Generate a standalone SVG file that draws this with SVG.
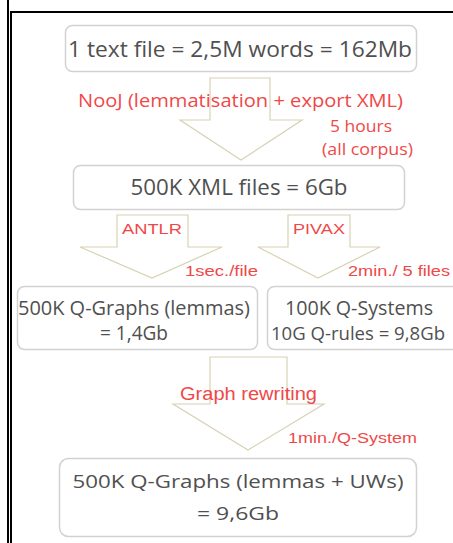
<svg xmlns="http://www.w3.org/2000/svg" width="453" height="543" viewBox="0 0 453 543">
<style>
.box{fill:#fff;stroke:#d2d2d2;stroke-width:1.5}
.arr{fill:#fff;stroke:#d8d2b4;stroke-width:1.2}
.t{font-family:"Open Sans","Noto Sans",sans-serif;fill:#505050;text-anchor:middle}
.r{font-family:"Open Sans","Noto Sans",sans-serif;fill:#f04848}
.ra{font-family:"Liberation Sans",Arial,sans-serif;fill:#f04848}
.frame{stroke:#000;stroke-width:2;fill:none}
</style>
<rect width="453" height="543" fill="#fff"/>
<g id="frame">
<line class="frame" x1="8" y1="0" x2="8" y2="543"/>
<line class="frame" x1="11" y1="11" x2="11" y2="543"/>
<line class="frame" x1="10" y1="12" x2="453" y2="12"/>
</g>
<g id="connectors">
<polygon class="arr" points="210,78 270,78 270,120 302,120 241,160 180,120 210,120"/>
<polygon class="arr" points="117,215 188,215 188,247 222,247 152,278 80,247 117,247"/>
<polygon class="arr" points="288,215 350,215 350,247 380,247 318,278 258,247 288,247"/>
<polygon class="arr" points="210,357 287,357 287,404 324,404 248,450 173,404 210,404"/>
<text class="r" x="78" y="107" font-size="19" textLength="325" lengthAdjust="spacingAndGlyphs">NooJ (lemmatisation + export XML)</text>
<text class="r" x="330" y="132" font-size="16" textLength="62" lengthAdjust="spacingAndGlyphs">5 hours</text>
<text class="r" x="322" y="155" font-size="16" textLength="91" lengthAdjust="spacingAndGlyphs">(all corpus)</text>
<text class="ra" x="122" y="234" font-size="15" textLength="60" lengthAdjust="spacingAndGlyphs">ANTLR</text>
<text class="ra" x="185" y="276" font-size="14" textLength="73" lengthAdjust="spacingAndGlyphs">1sec./file</text>
<text class="ra" x="293" y="234" font-size="15" textLength="52" lengthAdjust="spacingAndGlyphs">PIVAX</text>
<text class="ra" x="348" y="276" font-size="14" textLength="102" lengthAdjust="spacingAndGlyphs">2min./ 5 files</text>
<text class="ra" x="180" y="400" font-size="18" textLength="137" lengthAdjust="spacingAndGlyphs">Graph rewriting</text>
<text class="ra" x="288" y="443" font-size="14" textLength="129" lengthAdjust="spacingAndGlyphs">1min./Q-System</text>
</g>
<g id="n1">
<rect class="box" x="65.5" y="25.5" width="351" height="46" rx="7"/>
<text class="t" x="240" y="57" font-size="21" textLength="344" lengthAdjust="spacingAndGlyphs">1 text file = 2,5M words = 162Mb</text>
</g>
<g id="n2">
<rect class="box" x="73.5" y="165.5" width="331" height="44" rx="7"/>
<text class="t" x="239" y="195" font-size="21" textLength="217" lengthAdjust="spacingAndGlyphs">500K XML files = 6Gb</text>
</g>
<g id="n3">
<rect class="box" x="17.5" y="286.5" width="240" height="63" rx="7"/>
<text class="t" x="134" y="315" font-size="20" textLength="232" lengthAdjust="spacingAndGlyphs">500K Q-Graphs (lemmas)</text>
<text class="t" x="134" y="340" font-size="20" textLength="68" lengthAdjust="spacingAndGlyphs">= 1,4Gb</text>
</g>
<g id="n4">
<rect class="box" x="267.5" y="286.5" width="200" height="63" rx="7"/>
<text class="t" x="359" y="315" font-size="20" textLength="148" lengthAdjust="spacingAndGlyphs">100K Q-Systems</text>
<text class="t" x="358" y="340" font-size="19" textLength="174" lengthAdjust="spacingAndGlyphs">10G Q-rules = 9,8Gb</text>
</g>
<g id="n5">
<rect class="box" x="59.5" y="458.5" width="357" height="78" rx="9"/>
<text class="t" x="238" y="488" font-size="19" textLength="331" lengthAdjust="spacingAndGlyphs">500K Q-Graphs (lemmas + UWs)</text>
<text class="t" x="238" y="520" font-size="19" textLength="82" lengthAdjust="spacingAndGlyphs">= 9,6Gb</text>
</g>
</svg>
